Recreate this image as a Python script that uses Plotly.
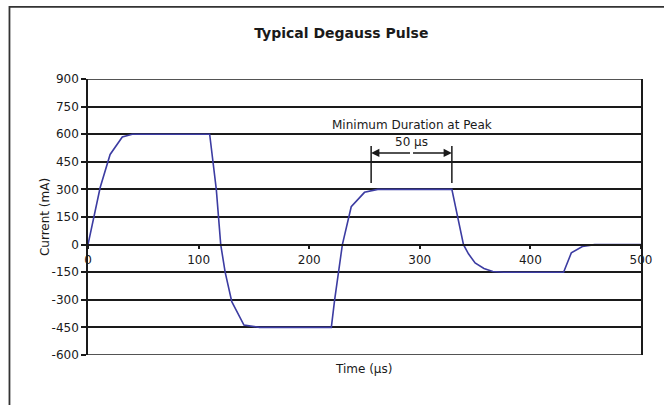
import plotly.graph_objects as go

# Degauss pulse waveform: time in microseconds, coil current in milliamps
time_us = [0, 11, 20, 31, 40, 110, 116, 120, 124, 130, 141, 155,
           220, 223, 230, 238, 250, 262, 329, 336, 339.5, 344, 350,
           358, 366, 376, 430, 437, 447, 458, 500]
current_ma = [0, 310, 490, 585, 600, 600, 300, 0, -150, -310, -437, -450,
              -450, -300, 0, 206, 284, 300, 300, 106, 0, -50, -100,
              -130, -146, -150, -150, -45, -10, 0, 0]

y_ticks = [-600, -450, -300, -150, 0, 150, 300, 450, 600, 750, 900]
y_tick_text = [str(v) for v in y_ticks]
x_ticks = [0, 100, 200, 300, 400, 500]

# Dimension marker for the minimum time spent at the peak
peak_start, peak_end = 256, 329
marker_bottom, marker_top, marker_arrow = 335, 536, 498
peak_label = "Minimum Duration at Peak"
duration_label = "50 µs"

FONT = "DejaVu Sans"
INK = "#1a1a1a"
CURVE = "#3c3ca2"

fig = go.Figure()
fig.add_trace(go.Scatter(
    x=time_us, y=current_ma, mode="lines",
    line=dict(color=CURVE, width=1.6), hoverinfo="skip", showlegend=False,
))

# Grid lines at the ends of the current range (plotly skips edge grid lines)
for yv in (y_ticks[0], y_ticks[-1]):
    fig.add_shape(type="line", xref="paper", yref="y",
                  x0=0, x1=1, y0=yv, y1=yv,
                  line=dict(color=INK, width=1.5), layer="below")

# Vertical extension lines of the dimension marker
for xv in (peak_start, peak_end):
    fig.add_shape(type="line", xref="x", yref="y",
                  x0=xv, x1=xv, y0=marker_bottom, y1=marker_top,
                  line=dict(color=INK, width=1.5))

# Double-headed arrow between the extension lines
mid = (peak_start + peak_end) / 2
for xv in (peak_start, peak_end):
    fig.add_annotation(x=xv, y=marker_arrow, ax=mid, ay=marker_arrow,
                       xref="x", yref="y", axref="x", ayref="y",
                       text="", showarrow=True, arrowhead=2, arrowsize=1.1,
                       arrowwidth=1.5, arrowcolor=INK)

fig.add_annotation(x=mid, y=650, xref="x", yref="y", text=peak_label,
                   showarrow=False, font=dict(family=FONT, size=12, color=INK))
fig.add_annotation(x=mid, y=560, xref="x", yref="y", text=duration_label,
                   showarrow=False, font=dict(family=FONT, size=12, color=INK))

# Axis titles
fig.add_annotation(x=-0.094, y=0.5, xref="paper", yref="paper",
                   text="Current (mA)", textangle=-90, showarrow=False,
                   font=dict(family=FONT, size=12, color=INK))
fig.add_annotation(x=0.498, y=-0.083, xref="paper", yref="paper",
                   text="Time (µs)", showarrow=False,
                   font=dict(family=FONT, size=12, color=INK))

# Outer frame around the whole chart
fig.add_shape(type="rect", xref="paper", yref="paper",
              x0=-0.142, x1=1.08, y0=-0.3, y1=1.261,
              line=dict(color="#333333", width=1.8), layer="below")

fig.update_layout(
    width=664, height=405,
    margin=dict(l=87.5, r=18, t=79, b=50),
    paper_bgcolor="white", plot_bgcolor="white",
    font=dict(family=FONT, size=12, color=INK),
    title=dict(text="Typical Degauss Pulse", xref="container", yref="container",
               x=0.514, y=0.918, xanchor="center", yanchor="middle",
               font=dict(family=FONT, size=14, color=INK, weight="bold")),
    xaxis=dict(
        range=[0, 500], tickvals=x_ticks, ticks="outside", ticklen=4,
        tickwidth=1.5, tickcolor=INK, showgrid=False, zeroline=False,
        showline=True, linecolor=INK, linewidth=1.5,
        anchor="free", position=0.4,
        tickfont=dict(family=FONT, size=12, color=INK),
    ),
    yaxis=dict(
        range=[-600, 900], tickvals=y_ticks, ticktext=y_tick_text,
        ticks="outside", ticklen=5,
        tickwidth=1.5, tickcolor=INK, showgrid=True, gridcolor=INK,
        gridwidth=1.5, zeroline=False, showline=True, linecolor=INK,
        linewidth=1.5, mirror=True,
        tickfont=dict(family=FONT, size=12, color=INK),
    ),
)

fig.write_html("out.html", config={"displayModeBar": False})
